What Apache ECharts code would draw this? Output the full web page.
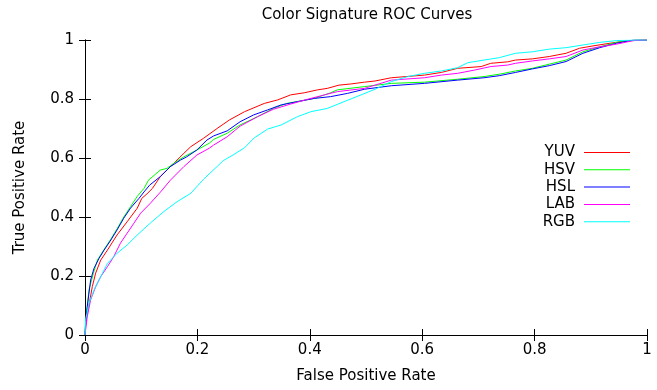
<!DOCTYPE html>
<html>
<head>
<meta charset="utf-8">
<script src="https://cdn.jsdelivr.net/npm/echarts@6/dist/echarts.min.js"></script>
<style>
  html, body { margin: 0; padding: 0; background: #fff; }
  #chart { width: 657px; height: 390px; }
</style>
</head>
<body>
<div id="chart"></div>
<script>
// ROC points: [false positive rate, true positive rate]
const yuv = [[0,0],[0.001,0.04],[0.007,0.1],[0.013,0.164],[0.019,0.21],[0.028,0.254],[0.04,0.288],[0.057,0.339],[0.075,0.384],[0.093,0.43],[0.101,0.463],[0.11,0.478],[0.12,0.497],[0.134,0.537],[0.158,0.582],[0.176,0.616],[0.188,0.638],[0.211,0.667],[0.235,0.7],[0.257,0.729],[0.284,0.757],[0.319,0.785],[0.343,0.797],[0.366,0.814],[0.39,0.821],[0.414,0.831],[0.431,0.836],[0.452,0.847],[0.473,0.851],[0.497,0.857],[0.516,0.861],[0.545,0.872],[0.604,0.881],[0.634,0.89],[0.663,0.904],[0.705,0.91],[0.722,0.921],[0.752,0.926],[0.766,0.932],[0.796,0.936],[0.826,0.944],[0.856,0.955],[0.88,0.972],[0.904,0.98],[0.934,0.989],[0.964,0.997],[1,1]];
const hsv = [[0,0],[0.001,0.04],[0.007,0.152],[0.015,0.21],[0.022,0.254],[0.034,0.29],[0.046,0.325],[0.057,0.36],[0.069,0.4],[0.081,0.435],[0.093,0.47],[0.105,0.497],[0.113,0.525],[0.134,0.559],[0.146,0.565],[0.158,0.582],[0.176,0.604],[0.199,0.627],[0.221,0.65],[0.229,0.663],[0.253,0.684],[0.276,0.712],[0.307,0.74],[0.335,0.768],[0.359,0.785],[0.408,0.802],[0.437,0.821],[0.449,0.831],[0.497,0.842],[0.545,0.853],[0.604,0.857],[0.663,0.867],[0.71,0.876],[0.74,0.885],[0.766,0.895],[0.796,0.904],[0.826,0.918],[0.856,0.932],[0.886,0.96],[0.916,0.977],[0.946,0.992],[0.98,1],[1,1]];
const hsl = [[0,0],[0.001,0.03],[0.004,0.096],[0.01,0.186],[0.016,0.226],[0.025,0.26],[0.034,0.288],[0.046,0.322],[0.057,0.356],[0.069,0.396],[0.081,0.43],[0.096,0.463],[0.105,0.485],[0.115,0.508],[0.134,0.537],[0.152,0.571],[0.17,0.593],[0.181,0.604],[0.199,0.627],[0.217,0.661],[0.229,0.675],[0.253,0.692],[0.276,0.723],[0.3,0.746],[0.325,0.763],[0.349,0.78],[0.378,0.791],[0.408,0.802],[0.437,0.808],[0.467,0.819],[0.497,0.833],[0.545,0.845],[0.604,0.853],[0.663,0.864],[0.71,0.872],[0.737,0.879],[0.766,0.89],[0.796,0.902],[0.826,0.913],[0.856,0.927],[0.886,0.955],[0.916,0.974],[0.946,0.989],[0.976,1],[1,1]];
const lab = [[0,0],[0.004,0.062],[0.01,0.119],[0.019,0.164],[0.028,0.198],[0.04,0.232],[0.051,0.265],[0.063,0.311],[0.075,0.345],[0.087,0.379],[0.099,0.413],[0.116,0.446],[0.134,0.484],[0.152,0.525],[0.176,0.571],[0.199,0.61],[0.221,0.633],[0.229,0.644],[0.253,0.672],[0.276,0.708],[0.307,0.74],[0.335,0.765],[0.366,0.783],[0.396,0.799],[0.426,0.814],[0.449,0.825],[0.497,0.836],[0.516,0.847],[0.545,0.864],[0.604,0.872],[0.634,0.881],[0.663,0.887],[0.693,0.898],[0.722,0.91],[0.752,0.915],[0.766,0.921],[0.796,0.929],[0.826,0.936],[0.856,0.944],[0.886,0.966],[0.916,0.977],[0.946,0.986],[0.976,0.998],[1,1]];
const rgb = [[0,0],[0.001,0.05],[0.007,0.107],[0.016,0.152],[0.028,0.198],[0.04,0.243],[0.057,0.277],[0.075,0.305],[0.093,0.339],[0.116,0.379],[0.14,0.418],[0.164,0.452],[0.188,0.48],[0.211,0.528],[0.235,0.571],[0.246,0.591],[0.265,0.612],[0.284,0.635],[0.301,0.668],[0.325,0.698],[0.349,0.712],[0.378,0.74],[0.402,0.757],[0.431,0.768],[0.461,0.791],[0.486,0.81],[0.516,0.833],[0.545,0.859],[0.574,0.876],[0.604,0.887],[0.634,0.895],[0.663,0.906],[0.681,0.923],[0.71,0.932],[0.737,0.94],[0.766,0.955],[0.796,0.96],[0.826,0.969],[0.856,0.974],[0.886,0.983],[0.916,0.992],[0.946,0.998],[0.98,1],[1,1]];

const names = ['YUV', 'HSV', 'HSL', 'LAB', 'RGB'];
const colors = ['#ff0000', '#00ff00', '#0000ff', '#ff00ff', '#00ffff'];
const curves = [yuv, hsv, hsl, lab, rgb];

const font = 'DejaVu Sans';
const chart = echarts.init(document.getElementById('chart'));

// thin line key, the empty subpaths just keep the 46x17 box
const keyIcon = 'path://M0 0 L0 0 Z M0 8 L46 8 L46 9 L0 9 Z M46 17 L46 17 Z';

const frameAxis = {
  type: 'value', min: 0, max: 1, interval: 0.2,
  axisLine: { show: true, lineStyle: { color: '#000', width: 1 } },
  axisTick: { show: true, inside: true, length: 6, lineStyle: { color: '#000' } },
  splitLine: { show: false }
};

chart.setOption({
  animation: false,
  textStyle: { fontFamily: font },
  title: {
    text: 'Color Signature ROC Curves',
    left: 362, top: 3, textAlign: 'center',
    textStyle: { fontFamily: font, fontSize: 15, fontWeight: 'normal', color: '#000' }
  },
  grid: { left: 85, right: 10, top: 40, bottom: 55 },
  legend: {
    orient: 'vertical', align: 'right',
    right: 27, top: 144, padding: 0,
    icon: keyIcon,
    itemWidth: 46, itemHeight: 17, itemGap: 0.3,
    textStyle: { fontFamily: font, fontSize: 15, color: '#000', lineHeight: 17, padding: [0, 4, 0, 0] },
    data: names
  },
  xAxis: [
    Object.assign({}, frameAxis, {
      position: 'bottom',
      name: 'False Positive Rate', nameLocation: 'middle', nameGap: 34,
      nameTextStyle: { fontFamily: font, fontSize: 15, color: '#000' },
      axisLabel: { color: '#000', fontSize: 15, margin: 8 }
    }),
    Object.assign({}, frameAxis, { position: 'top', axisLabel: { show: false } })
  ],
  yAxis: [
    Object.assign({}, frameAxis, {
      position: 'left',
      name: 'True Positive Rate', nameLocation: 'middle', nameGap: 57,
      nameTextStyle: { fontFamily: font, fontSize: 15, color: '#000' },
      axisLabel: { color: '#000', fontSize: 15, margin: 11 }
    }),
    Object.assign({}, frameAxis, { position: 'right', axisLabel: { show: false } })
  ],
  series: curves.map((d, i) => ({
    name: names[i],
    type: 'line',
    data: d,
    symbol: 'none',
    color: colors[i],
    lineStyle: { width: 1, color: colors[i] }
  }))
});
</script>
</body>
</html>
